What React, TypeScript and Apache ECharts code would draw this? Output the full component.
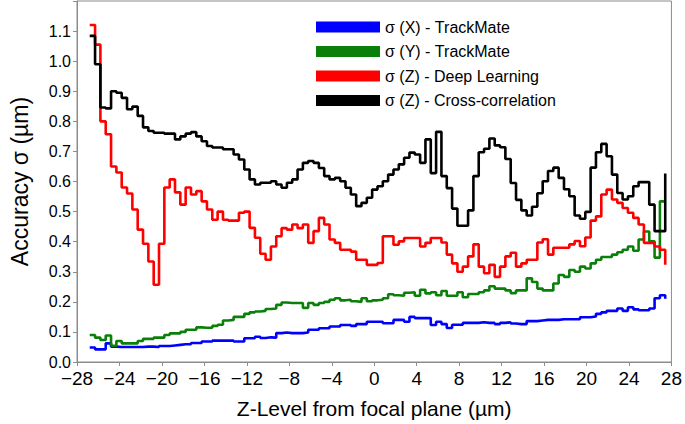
import React, { useEffect, useRef } from "react";
import * as echarts from "echarts";

// Z-level bins (µm): left edge of the first bin and bin width; each array holds one
// value per bin plus a closing value at the right edge.
const zStart = -26.8;
const zBin = 0.502;

const sigmaXTrackMate = [
  0.048, 0.042, 0.042, 0.062, 0.051, 0.05, 0.05, 0.05, 0.05, 0.05,
  0.051, 0.051, 0.05, 0.053, 0.053, 0.055, 0.057, 0.059, 0.059, 0.063,
  0.063, 0.068, 0.068, 0.071, 0.071, 0.071, 0.071, 0.068, 0.068, 0.079,
  0.079, 0.084, 0.08, 0.082, 0.081, 0.096, 0.098, 0.096, 0.096, 0.096,
  0.098, 0.107, 0.107, 0.112, 0.112, 0.118, 0.118, 0.123, 0.123, 0.12,
  0.126, 0.126, 0.134, 0.134, 0.134, 0.129, 0.129, 0.14, 0.14, 0.134,
  0.15, 0.146, 0.146, 0.146, 0.123, 0.134, 0.126, 0.113, 0.124, 0.124,
  0.13, 0.13, 0.13, 0.132, 0.13, 0.13, 0.126, 0.13, 0.132, 0.128,
  0.126, 0.126, 0.136, 0.136, 0.138, 0.14, 0.14, 0.14, 0.142, 0.142,
  0.142, 0.142, 0.149, 0.149, 0.151, 0.16, 0.165, 0.17, 0.17, 0.178,
  0.17, 0.182, 0.175, 0.172, 0.172, 0.178, 0.212, 0.222, 0.21,
];

const sigmaYTrackMate = [
  0.09, 0.081, 0.073, 0.088, 0.054, 0.07, 0.062, 0.062, 0.062, 0.07,
  0.077, 0.077, 0.081, 0.081, 0.09, 0.095, 0.095, 0.1, 0.107, 0.107,
  0.115, 0.114, 0.114, 0.12, 0.124, 0.138, 0.14, 0.15, 0.15, 0.16,
  0.165, 0.168, 0.17, 0.176, 0.178, 0.19, 0.198, 0.196, 0.196, 0.196,
  0.18, 0.196, 0.19, 0.196, 0.2, 0.207, 0.212, 0.205, 0.207, 0.202,
  0.2, 0.212, 0.202, 0.205, 0.207, 0.212, 0.225, 0.222, 0.22, 0.23,
  0.232, 0.22, 0.24, 0.228, 0.232, 0.222, 0.236, 0.22, 0.22, 0.232,
  0.215, 0.226, 0.226, 0.232, 0.238, 0.252, 0.244, 0.244, 0.238, 0.229,
  0.238, 0.238, 0.278, 0.266, 0.244, 0.238, 0.238, 0.261, 0.289, 0.283,
  0.306, 0.3, 0.317, 0.311, 0.328, 0.34, 0.349, 0.349, 0.357, 0.365,
  0.373, 0.384, 0.37, 0.407, 0.434, 0.401, 0.347, 0.534, 0.534,
];

const sigmaZDeepLearning = [
  1.12, 1.055, 0.8, 0.757, 0.65, 0.63, 0.58, 0.56, 0.507, 0.44,
  0.393, 0.334, 0.257, 0.393, 0.58, 0.607, 0.564, 0.523, 0.58, 0.557,
  0.568, 0.534, 0.507, 0.473, 0.5, 0.473, 0.47, 0.47, 0.496, 0.5,
  0.446, 0.413, 0.36, 0.34, 0.384, 0.418, 0.445, 0.44, 0.457, 0.445,
  0.457, 0.396, 0.435, 0.479, 0.457, 0.407, 0.396, 0.373, 0.373, 0.367,
  0.34, 0.34, 0.323, 0.323, 0.329, 0.418, 0.418, 0.39, 0.401, 0.412,
  0.412, 0.412, 0.384, 0.396, 0.412, 0.412, 0.397, 0.357, 0.328, 0.3,
  0.317, 0.351, 0.391, 0.317, 0.295, 0.323, 0.283, 0.317, 0.351, 0.363,
  0.317, 0.328, 0.34, 0.34, 0.397, 0.408, 0.357, 0.38, 0.38, 0.38,
  0.391, 0.402, 0.385, 0.414, 0.47, 0.484, 0.557, 0.573, 0.54, 0.529,
  0.512, 0.496, 0.479, 0.457, 0.396, 0.396, 0.384, 0.373, 0.323,
];

const sigmaZCrossCorrelation = [
  1.084, 0.99, 0.846, 0.843, 0.9, 0.895, 0.878, 0.84, 0.849, 0.818,
  0.78, 0.768, 0.762, 0.762, 0.759, 0.759, 0.74, 0.75, 0.759, 0.764,
  0.75, 0.734, 0.718, 0.713, 0.713, 0.707, 0.707, 0.69, 0.673, 0.64,
  0.607, 0.59, 0.596, 0.596, 0.601, 0.59, 0.579, 0.596, 0.607, 0.64,
  0.662, 0.668, 0.662, 0.645, 0.618, 0.607, 0.612, 0.601, 0.579, 0.557,
  0.518, 0.529, 0.546, 0.573, 0.584, 0.601, 0.623, 0.64, 0.657, 0.679,
  0.696, 0.69, 0.662, 0.74, 0.628, 0.765, 0.618, 0.578, 0.51, 0.453,
  0.453, 0.504, 0.618, 0.697, 0.709, 0.743, 0.72, 0.714, 0.675, 0.595,
  0.539, 0.504, 0.487, 0.516, 0.561, 0.601, 0.635, 0.646, 0.612, 0.574,
  0.551, 0.487, 0.476, 0.499, 0.646, 0.697, 0.725, 0.684, 0.623, 0.562,
  0.54, 0.551, 0.584, 0.598, 0.598, 0.523, 0.435, 0.435, 0.627,
];

const seriesNames = [
  "σ (X) - TrackMate",
  "σ (Y) - TrackMate",
  "σ (Z) - Deep Learning",
  "σ (Z) - Cross-correlation",
];
const seriesColors = ["#0000ff", "#0a800a", "#ff0000", "#000000"];
const seriesValues = [sigmaXTrackMate, sigmaYTrackMate, sigmaZDeepLearning, sigmaZCrossCorrelation];

const FONT = "'Liberation Sans', Arial, Helvetica, sans-serif";

export default function App() {
  const ref = useRef<HTMLDivElement>(null);

  useEffect(() => {
    document.body.style.margin = "0";
    if (!ref.current) return;
    const chart = echarts.init(ref.current, undefined, { renderer: "svg" });

    const series = seriesValues.map((vals, si) => ({
      name: seriesNames[si],
      type: "line",
      step: "end",
      showSymbol: false,
      symbol: "none",
      data: vals.map((v, i) => [zStart + zBin * i, v]),
      lineStyle: { color: seriesColors[si], width: 2.6 },
      itemStyle: { color: seriesColors[si] },
      z: 2 + si,
    }));

    chart.setOption({
      animation: false,
      backgroundColor: "#ffffff",
      textStyle: { fontFamily: FONT },
      grid: {
        left: 73,
        right: 10,
        top: 1,
        bottom: 62,
        show: true,
        borderColor: "#8c8c8c",
        borderWidth: 1,
        backgroundColor: "transparent",
      },
      legend: {
        orient: "vertical",
        left: 311,
        top: 14,
        icon: "rect",
        itemWidth: 64,
        itemHeight: 11,
        itemGap: 8.5,
        data: seriesNames,
        textStyle: {
          fontFamily: FONT,
          fontSize: 16,
          lineHeight: 16,
          color: "#000",
        },
      },
      xAxis: {
        type: "value",
        min: -28,
        max: 28,
        interval: 4,
        name: "Z-Level from focal plane (µm)",
        nameLocation: "middle",
        nameGap: 36,
        nameTextStyle: { fontFamily: FONT, fontSize: 21, color: "#000" },
        axisLine: { show: true, onZero: false, lineStyle: { color: "#8c8c8c", width: 1 } },
        axisTick: { show: true, inside: false, length: 4, lineStyle: { color: "#8c8c8c" } },
        splitLine: { show: false },
        axisLabel: {
          fontFamily: FONT,
          fontSize: 19,
          color: "#000",
          margin: 7,
          formatter: (v: number) => (v < 0 ? "\u2212" + Math.abs(v) : String(v)),
        },
      },
      yAxis: {
        type: "value",
        min: 0,
        max: 1.2,
        interval: 0.1,
        name: "Accuracy σ (µm)",
        nameLocation: "middle",
        nameGap: 46,
        nameRotate: 90,
        nameTextStyle: { fontFamily: FONT, fontSize: 23, color: "#000" },
        axisLine: { show: true, onZero: false, lineStyle: { color: "#8c8c8c", width: 1 } },
        axisTick: { show: true, inside: false, length: 4, lineStyle: { color: "#8c8c8c" } },
        splitLine: { show: false },
        axisLabel: {
          fontFamily: FONT,
          fontSize: 16,
          color: "#000",
          margin: 6,
          formatter: (v: number) => (v > 1.15 ? "" : v.toFixed(1)),
        },
      },
      series,
    });

    return () => chart.dispose();
  }, []);

  return (
    <div
      ref={ref}
      style={{ position: "fixed", left: 0, top: 0, width: 685, height: 424 }}
    />
  );
}
